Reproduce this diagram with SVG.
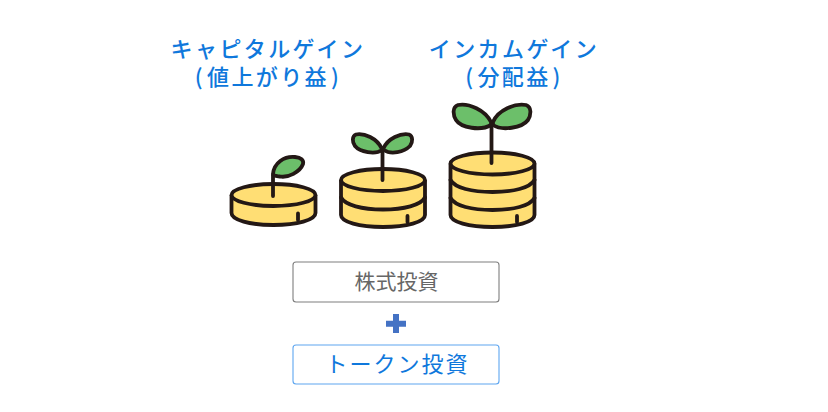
<svg xmlns="http://www.w3.org/2000/svg" width="828" height="412" viewBox="0 0 828 412">
<style>
.h{font-family:"Noto Sans CJK JP","Noto Sans",sans-serif;font-size:22px;fill:#0f78dc;text-anchor:middle;font-weight:500;letter-spacing:2.400px}
.b{font-family:"Noto Sans CJK JP","Noto Sans",sans-serif;font-size:21px;text-anchor:middle}
.k{fill:none;stroke:#231815;stroke-width:3.800;stroke-linecap:round;stroke-linejoin:round}
.c{fill:#ffde74;stroke:#231815;stroke-width:3.800;stroke-linejoin:round}
.l{fill:#6cbf6a;stroke:#231815;stroke-width:3.800;stroke-linejoin:round}
</style>
<g id="label-capital"><text class="h" x="268" y="56.500">キャピタルゲイン</text><text class="h" x="268" y="84.500">(<tspan dx="2">値上がり益</tspan><tspan dx="2">)</tspan></text></g>
<g id="label-income"><text class="h" x="514" y="56.500">インカムゲイン</text><text class="h" x="514" y="84.500">(<tspan dx="2">分配益</tspan><tspan dx="2">)</tspan></text></g>
<g id="coin-1">
<path class="c" d="M231.500 195V213C231.500 220 250 225 273.500 225S315.500 220 315.500 213V195"/>
<ellipse class="c" cx="273.500" cy="195" rx="42" ry="11"/>
<path class="k" d="M298 213.500V220M273 196V175"/>
<path class="l" d="M273 174C274 163 284 156 295 157C301 157.500 304 160 303 164C300 172 288 178 280 176.500C276 176 273 176 273 174Z"/>
</g>
<g id="coin-2">
<path class="c" d="M341 180V215C341 222 359.500 227 383 227S425 222 425 215V180"/>
<path class="k" d="M341 197.500C345 205 362 209.500 383 209.500S421 205 425 197.500"/>
<ellipse class="c" cx="383" cy="180" rx="42" ry="11"/>
<path class="k" d="M407.500 216V222M382.500 180V150"/>
<path class="l" d="M382 149C377 138 364 133 356 134.500C352 136 352 142 355 146C360 152 375 155 382 150ZM383 149C388 138 401 133 409 134.500C413 136 413 142 410 146C404 152 391 155 384 150Z"/>
</g>
<g id="coin-3">
<path class="c" d="M450.500 163.500V215C450.500 222 469 227 492.500 227S534.500 222 534.500 215V163.500"/>
<path class="k" d="M450.500 180C455 188 472 192 492.500 192S530 188 534.500 180M450.500 198C455 206 472 210 492.500 210S530 206 534.500 198"/>
<ellipse class="c" cx="492.500" cy="163.500" rx="42" ry="11"/>
<path class="k" d="M517 216V222M491.500 163V125"/>
<path class="l" d="M491 122C485 110 469 103 458 105C452 107 453 115 456 120C461 128 481 131 491 125ZM493 122C498 110 515 103 526 105C532 107 531 115 528 120C522 128 502 131 493 125Z"/>
</g>
<g id="box-stock"><rect x="293" y="262" width="206" height="40" rx="3" fill="#fff" stroke="#7f7f7f" stroke-width="1.100"/><text class="b" x="396.500" y="288.500" fill="#666">株式投資</text></g>
<g id="plus"><path d="M393 314h6v6.700h7v6h-7v6.300h-6v-6.300H386v-6h7z" fill="#4472c4"/></g>
<g id="box-token"><rect x="293" y="345" width="206" height="39" rx="3" fill="#fff" stroke="#5ea6f0" stroke-width="1.100"/><text class="b" x="397.500" y="372" fill="#0f78dc" style="font-size:22px;letter-spacing:2px">トークン投資</text></g>
<g id="connectors"/>
</svg>
